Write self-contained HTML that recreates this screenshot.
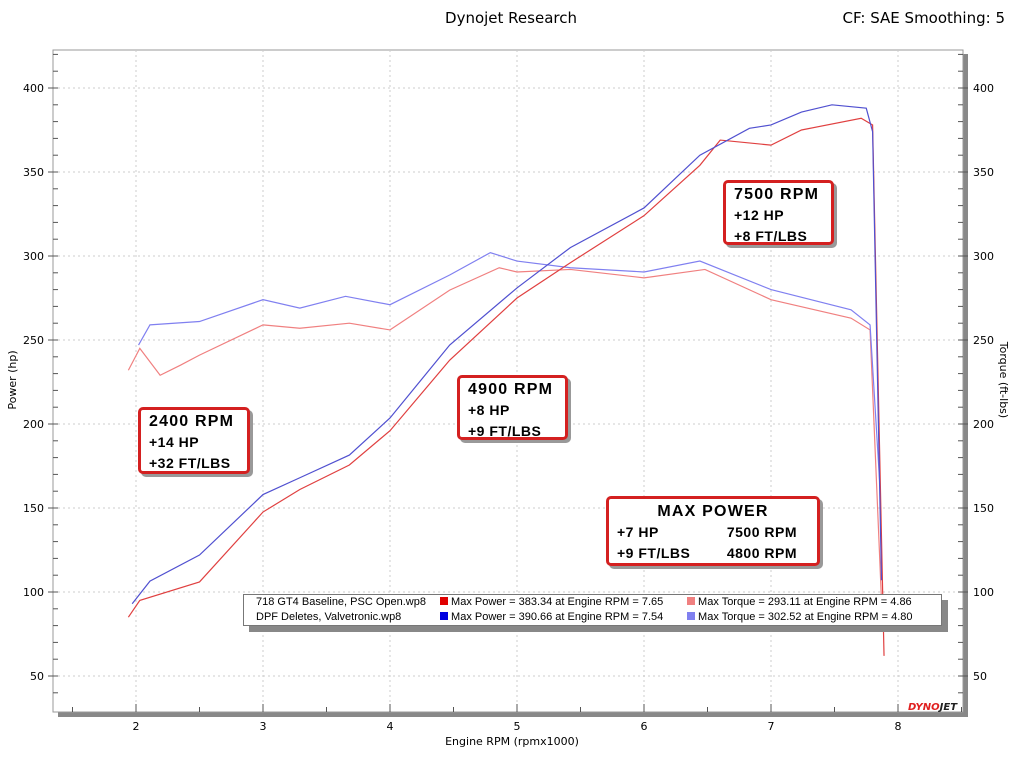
<!DOCTYPE html>
<html><head><meta charset="utf-8"><style>
body{margin:0;background:#fff;font-family:"DejaVu Sans","Liberation Sans",sans-serif;}
svg text{font-family:"DejaVu Sans","Liberation Sans",sans-serif;}
.box{position:absolute;border:3px solid #d42020;border-radius:5px;background:#fff;box-shadow:3px 3px 0 #999;font-weight:bold;font-size:14px;line-height:21px;padding:0 8px;box-sizing:border-box;white-space:nowrap;font-family:"Liberation Sans",sans-serif;letter-spacing:0.5px}
.box .h{font-size:16px;letter-spacing:1.2px}
</style></head><body>
<div style="position:relative;width:1024px;height:768px;overflow:hidden">
<svg id="svg" width="1024" height="768">
<text x="511" y="23" text-anchor="middle" font-size="15">Dynojet Research</text>
<text x="1005" y="23" text-anchor="end" font-size="15">CF: SAE Smoothing: 5</text>
<rect x="58" y="54" width="910" height="663" fill="#888"/>
<rect x="53" y="50" width="910" height="662" fill="#fff" stroke="#999"/>
<g id="grid"></g><g id="series"></g>
<text x="512" y="745" text-anchor="middle" font-size="11">Engine RPM (rpmx1000)</text>
<text x="16" y="380" text-anchor="middle" font-size="11" transform="rotate(-90 16 380)">Power (hp)</text>
<text x="1000" y="380" text-anchor="middle" font-size="11" transform="rotate(90 1000 380)">Torque (ft-lbs)</text>
<text x="908" y="710" font-size="10" font-style="italic" font-weight="bold" fill="#e02020">DYNO<tspan fill="#222">JET</tspan></text>
</svg>
<div style="position:absolute;left:243px;top:594px;width:697px;height:30px;border:1px solid #777;background:#fff;box-shadow:6px 6px 0 #888;font-size:11px;line-height:15px;font-family:'Liberation Sans',sans-serif;white-space:nowrap">
<div style="position:absolute;left:12px;top:0">718 GT4 Baseline, PSC Open.wp8<br>DPF Deletes, Valvetronic.wp8</div>
<div style="position:absolute;left:196px;top:0"><span style="display:inline-block;width:8px;height:8px;background:#e00000"></span> Max Power = 383.34 at Engine RPM = 7.65<br><span style="display:inline-block;width:8px;height:8px;background:#0000e0"></span> Max Power = 390.66 at Engine RPM = 7.54</div>
<div style="position:absolute;left:443px;top:0"><span style="display:inline-block;width:8px;height:8px;background:#f08080"></span> Max Torque = 293.11 at Engine RPM = 4.86<br><span style="display:inline-block;width:8px;height:8px;background:#8080f0"></span> Max Torque = 302.52 at Engine RPM = 4.80</div>
</div>
<div class="box" style="left:138px;top:407px;width:112px;height:67px;padding-top:1px"><div class="h">2400 RPM</div>+14 HP<br>+32 FT/LBS</div>
<div class="box" style="left:457px;top:375px;width:111px;height:65px;padding-top:1px"><div class="h">4900 RPM</div>+8 HP<br>+9 FT/LBS</div>
<div class="box" style="left:723px;top:180px;width:111px;height:65px;padding-top:1px"><div class="h">7500 RPM</div>+12 HP<br>+8 FT/LBS</div>
<div class="box" style="left:606px;top:496px;width:214px;height:70px;padding-top:2px"><div class="h" style="text-align:center">MAX POWER</div><div style="display:flex;justify-content:space-between;padding-right:12px"><span>+7 HP<br>+9 FT/LBS</span><span>7500 RPM<br>4800 RPM</span></div></div>
</div>
<script>
const xTicks=[2,3,4,5,6,7,8];
const yTicks=[50,100,150,200,250,300,350,400];
const rpmPowerBlue=[1.97,2.11,2.5,3.0,3.29,3.68,4.0,4.47,5.0,5.42,6.0,6.44,6.83,7.0,7.24,7.48,7.75,7.8,7.87];
const powerBlue=[93,106.5,122,158,168,181.5,203.6,247,281,305,328.6,360,376,378,385.7,390,388,374,107];
const rpmPowerRed=[1.94,2.03,2.5,3.0,3.29,3.68,4.0,4.47,5.0,5.42,6.0,6.44,6.6,7.0,7.24,7.71,7.8,7.89];
const powerRed=[85,95,106,147.6,161,175.6,196,238,275,296,324,354,369,366,375,382,378,62];
const rpmTorqueBlue=[2.02,2.11,2.5,3.0,3.29,3.65,4.0,4.47,4.79,5.0,5.42,6.0,6.44,7.0,7.63,7.78,7.86];
const torqueBlue=[247,259,261,274,269,276,271,288.7,302,297,293,290.5,297,280,268,259,160];
const rpmTorqueRed=[1.94,2.03,2.19,2.35,2.5,3.0,3.29,3.68,4.0,4.47,4.86,5.0,5.42,6.0,6.48,7.0,7.63,7.78,7.87];
const torqueRed=[232,245,229,235,241,259,257,260,256,279.7,293,290.5,292,287,292,274,263,256,95];
const X=r=>136+(r-2)*127, Y=v=>676-(v-50)*1.68;
const NS='http://www.w3.org/2000/svg';
const grid=document.getElementById('grid'), ser=document.getElementById('series');
function mk(tag,attrs,parent){const e=document.createElementNS(NS,tag);for(const k in attrs)e.setAttribute(k,attrs[k]);parent.appendChild(e);return e;}
xTicks.forEach(t=>{
 const g=mk('line',{x1:X(t),x2:X(t),y1:50,y2:712,stroke:'#ccc','stroke-dasharray':'2,3'},grid);
 
 
 mk('line',{x1:X(t),x2:X(t),y1:704,y2:712,stroke:'#555'},grid);
 const tx=mk('text',{x:X(t),y:730,'text-anchor':'middle','font-size':11},grid);tx.textContent=t;
 
 
});
for(let t=1.5;t<8.6;t+=0.5){if(t%1)mk('line',{x1:X(t),x2:X(t),y1:707,y2:712,stroke:'#555'},grid);}
yTicks.forEach(t=>{
 const g=mk('line',{x1:53,x2:963,y1:Y(t),y2:Y(t),stroke:'#ccc','stroke-dasharray':'2,3'},grid);
 
 
 mk('line',{x1:48,x2:58,y1:Y(t),y2:Y(t),stroke:'#555'},grid);
 mk('line',{x1:958,x2:968,y1:Y(t),y2:Y(t),stroke:'#555'},grid);
 const a=mk('text',{x:44,y:Y(t)+4,'text-anchor':'end','font-size':11},grid);a.textContent=t;
 
 
 const b=mk('text',{x:973,y:Y(t)+4,'font-size':11},grid);b.textContent=t;
 
 
});
for(let t=40;t<=420;t+=10){if(t%50)mk('line',{x1:53,x2:58,y1:Y(t),y2:Y(t),stroke:'#555'},grid),mk('line',{x1:958,x2:963,y1:Y(t),y2:Y(t),stroke:'#555'},grid);}
function line(rs,vs,col,name){
 const p=mk('polyline',{points:rs.map((r,i)=>X(r)+','+Y(vs[i])).join(' '),fill:'none',stroke:col,'stroke-width':1.2},ser);
 
 
}
line(rpmTorqueRed,torqueRed,'#f08080','torque-baseline');
line(rpmTorqueBlue,torqueBlue,'#8080f0','torque-dpf-delete');
line(rpmPowerRed,powerRed,'#e04040','power-baseline');
line(rpmPowerBlue,powerBlue,'#5050d0','power-dpf-delete');
</script>
</body></html>
